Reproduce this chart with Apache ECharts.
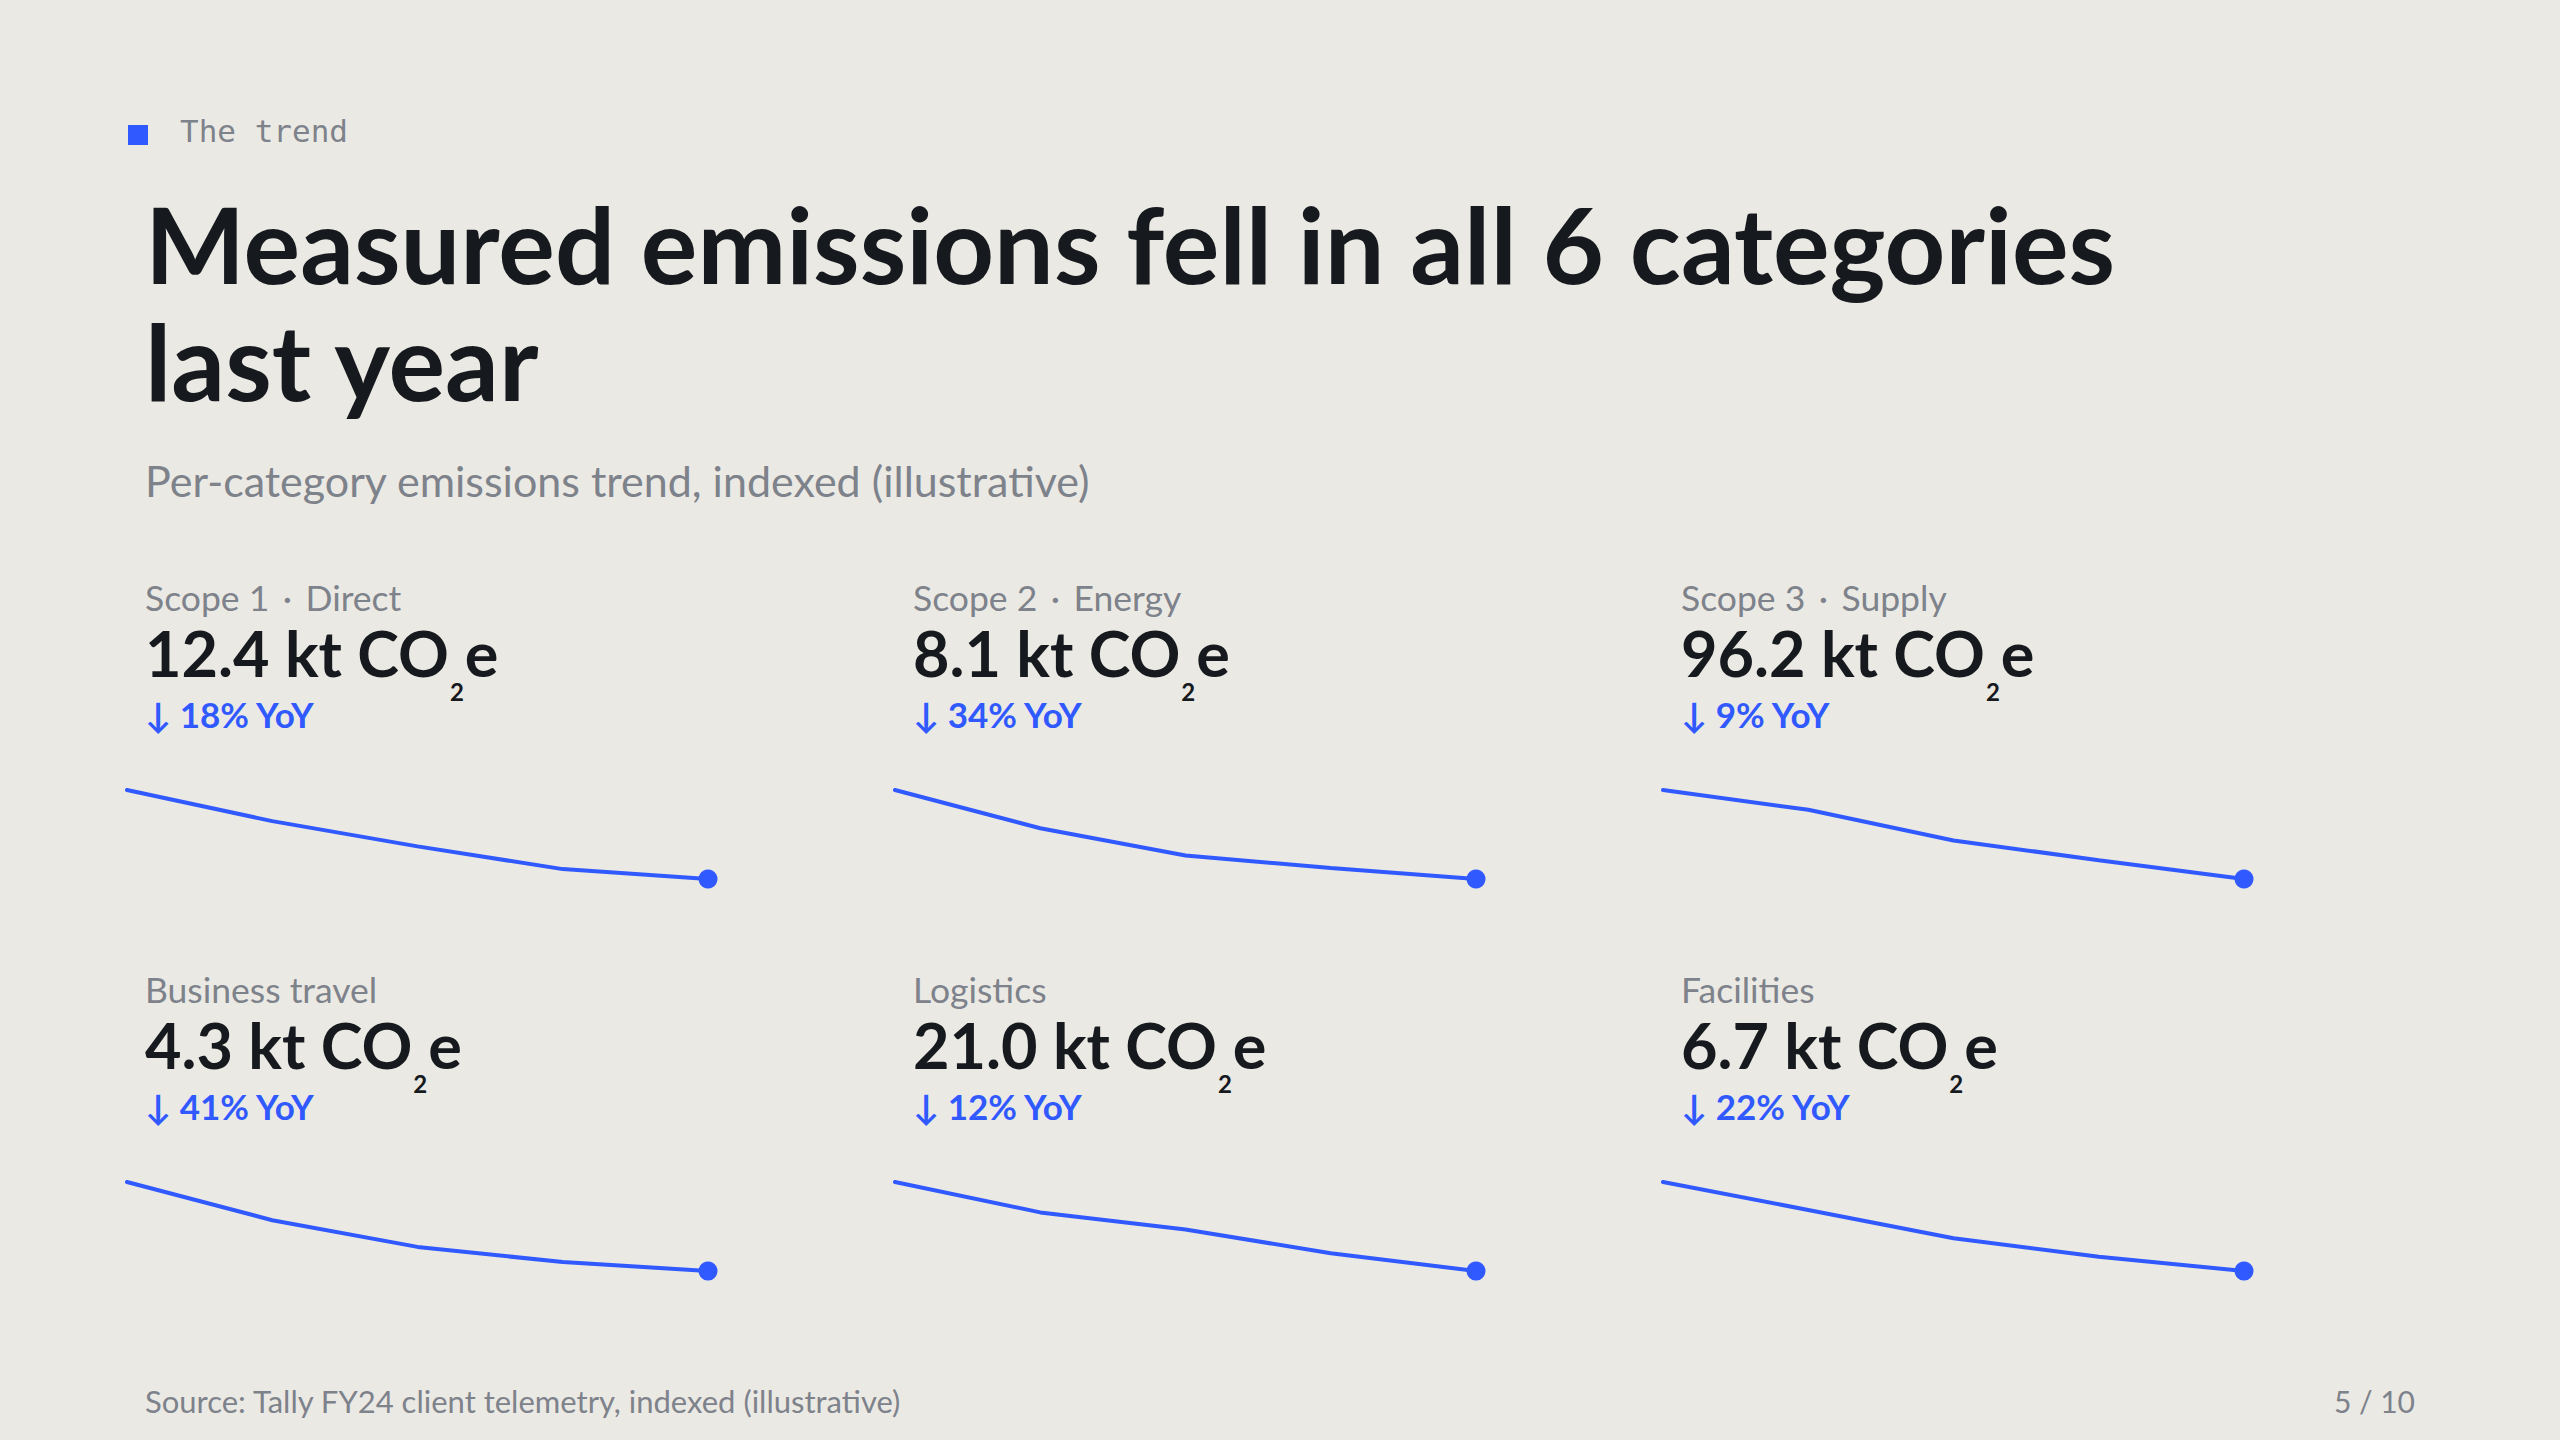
<!DOCTYPE html>
<html>
<head>
<meta charset="utf-8">
<script src="https://cdn.jsdelivr.net/npm/echarts@6/dist/echarts.min.js"></script>
<style>
  html, body { margin: 0; padding: 0; background: #ebe9e4; }
  #chart { width: 2560px; height: 1440px; }
</style>
</head>
<body>
<div id="chart"></div>
<script>
// card data
const labels = ['Scope 1 \u00b7 Direct', 'Scope 2 \u00b7 Energy', 'Scope 3 \u00b7 Supply', 'Business travel', 'Logistics', 'Facilities'];
const totals = ['12.4', '8.1', '96.2', '4.3', '21.0', '6.7'];
const yoyDrops = [18, 34, 9, 41, 12, 22];
const periods = ['P1', 'P2', 'P3', 'P4', 'P5'];

// indexed trends (first period = 100)
const trendScope1 = [100, 93.7, 88.6, 84.0, 82];
const trendScope2 = [100, 85.4, 75.0, 70.2, 66];
const trendScope3 = [100, 98.0, 94.9, 92.9, 91];
const trendTravel = [100, 82.4, 70.1, 63.1, 59];
const trendLogistics = [100, 95.9, 93.6, 90.4, 88];
const trendFacilities = [100, 93.1, 86.1, 81.5, 78];
const trends = [trendScope1, trendScope2, trendScope3, trendTravel, trendLogistics, trendFacilities];

const BLUE = '#3059ff';
const INK = '#16191d';
const GREY = '#7d828b';
const SANS = 'Lato, "Noto Sans", sans-serif';
const MONO = '"DejaVu Sans Mono", monospace';

// place text so that its alphabetic baseline lands on y
function label(x, baseline, str, size, color, weight, align) {
  return {
    type: 'text', x: x, y: baseline - 0.387 * size, silent: true,
    style: {
      text: str, fill: color, font: (weight || 'normal') + ' ' + size + 'px ' + SANS,
      align: align || 'left', verticalAlign: 'middle', lineHeight: Math.round(size * 0.85)
    }
  };
}

const chart = echarts.init(document.getElementById('chart'), null, { renderer: 'svg' });

const grids = [], xAxes = [], yAxes = [], series = [];
const graphics = [
  { type: 'rect', shape: { x: 128, y: 125, width: 20, height: 20 }, style: { fill: BLUE }, silent: true },
  {
    type: 'text', x: 180, y: 142 - 0.346 * 31, silent: true,
    style: { text: 'The trend', fill: GREY, font: 'normal 31px ' + MONO, verticalAlign: 'middle' }
  },
  label(145, 1413, 'Source: Tally FY24 client telemetry, indexed (illustrative)', 31, GREY),
  label(2415, 1413, '5 / 10', 30, GREY, 'normal', 'right')
];

trends.forEach(function (vals, i) {
  const col = i % 3, row = Math.floor(i / 3);
  const tx = 145 + col * 768, dy = row * 392;

  graphics.push(label(tx, 611 + dy, labels[i].replace(' \u00b7 ', '\u2009 \u00b7 \u2009'), 35.5, GREY));
  graphics.push({
    type: 'text', x: tx, y: 621 + dy, silent: true,
    style: {
      text: '{v|' + totals[i] + ' kt CO}{s|2}{v|e}',
      verticalAlign: 'top',
      rich: {
        v: { font: 'bold 63px ' + SANS, fill: INK, lineHeight: 63, verticalAlign: 'top' },
        s: { font: 'bold 24px ' + SANS, fill: INK, lineHeight: 18, padding: [58, 1, 0, 1], verticalAlign: 'top' }
      }
    }
  });
  graphics.push(label(tx, 728 + dy, '\u2193 ' + yoyDrops[i] + '% YoY', 35, BLUE, 'bold'));

  grids.push({ left: 127 + col * 768, top: 790 + dy, width: 581, height: 89 });
  xAxes.push({ type: 'category', gridIndex: i, data: periods, boundaryGap: false, show: false });
  yAxes.push({ type: 'value', gridIndex: i, min: 'dataMin', max: 'dataMax', show: false });
  series.push({
    type: 'line', xAxisIndex: i, yAxisIndex: i, symbol: 'none', silent: true,
    data: vals.map(function (v, k) {
      return k === vals.length - 1 ? { value: v, symbol: 'circle', symbolSize: 19 } : v;
    }),
    lineStyle: { width: 4, color: BLUE, cap: 'round' },
    itemStyle: { color: BLUE }
  });
});

chart.setOption({
  backgroundColor: '#ebe9e4',
  animation: false,
  title: {
    left: 145, top: 184.5, padding: 0, itemGap: 37,
    text: 'Measured emissions fell in all 6 categories\nlast year',
    subtext: 'Per-category emissions trend, indexed (illustrative)',
    textStyle: { fontFamily: SANS, fontWeight: 'bold', fontSize: 106, lineHeight: 117, color: INK },
    subtextStyle: { fontFamily: SANS, fontSize: 43, lineHeight: 50, color: GREY }
  },
  grid: grids,
  xAxis: xAxes,
  yAxis: yAxes,
  series: series,
  graphic: graphics
});
</script>
</body>
</html>
